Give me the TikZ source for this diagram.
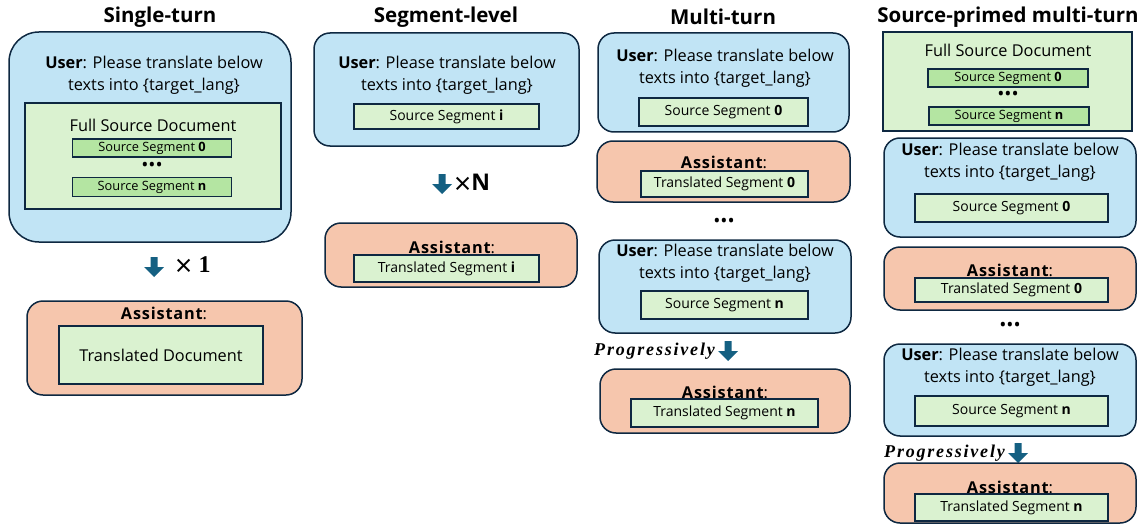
\documentclass[tikz,border=0pt]{standalone}
\usepackage{amsmath,amssymb}
\usepackage{fontspec}
\setmainfont{Open Sans}
\newfontfamily\asstfont[LetterSpace=5]{Open Sans}
\newfontfamily\progfont[LetterSpace=10]{Liberation Serif}
\usepackage{xcolor}
\usetikzlibrary{positioning}

\definecolor{cedge}{HTML}{0E2841}
\definecolor{cuser}{HTML}{C1E4F5}
\definecolor{casst}{HTML}{F6C6AD}
\definecolor{cdoc}{HTML}{DAF2D0}
\definecolor{cseg}{HTML}{B4E5A2}
\definecolor{carr}{HTML}{156082}

\newcommand\bodyfont{\fontsize{16.3}{22}\selectfont}
\newcommand\segfont{\fontsize{14}{16}\selectfont}
\newcommand\smallseg{\fontsize{12.8}{15}\selectfont}
\newcommand\headfont{\fontsize{20.5}{24}\selectfont\bfseries}
\newcommand\prompttext{\textbf{User}: Please translate below\\texts into \{target\_lang\}}
\newcommand\asstlabel{{\asstfont\bfseries Assistant}:}
\newcommand\bigtimes{\raisebox{-4pt}{\fontsize{30}{30}\selectfont ×}}

\tikzset{dnarr/.pic={\fill[carr] (-3.5,-10) -- (3.5,-10) -- (3.5,0) -- (10,0) -- (0,10) -- (-10,0) -- (-3.5,0) -- cycle;}}

\begin{document}
\begin{tikzpicture}[x=1pt, y=-1pt, inner sep=0pt, font=\bodyfont,
    head/.style={font=\headfont},
    box/.style={draw=cedge, line width=1.5pt, rounded corners=16pt},
    userbox/.style={box, fill=cuser},
    asstbox/.style={box, fill=casst},
    docbox/.style={draw=cedge, line width=1.5pt, fill=cdoc},
    segbox/.style={docbox, font=\segfont},
    darkseg/.style={draw=cedge, line width=1.5pt, fill=cseg, font=\smallseg},
    prompt/.style={align=center},
    dots/.style={font=\fontsize{19}{19}\selectfont},
    prog/.style={font=\fontsize{18}{18}\selectfont\progfont\bfseries\itshape}]

    \useasboundingbox (0,0) rectangle (1145,524);

    % Single-turn
    \node[head] (h1) at (160,17) {Single-turn};
    \node[userbox, rounded corners=30pt, minimum width=282pt, minimum height=210pt] (u1) at (150,137) {};
    \node[prompt] (p1) at (154,75) {\prompttext};
    \node[docbox, minimum width=256pt, minimum height=106pt] (d1) at (153,156) {};
    \node (f1) at (153,125) {Full Source Document};
    \node[darkseg, minimum width=159pt, minimum height=18pt] (s1a) at (152,148) {Source Segment \textbf{0}};
    \node[dots] (k1) at (152,167) {\textbullet\textbullet\textbullet};
    \node[darkseg, minimum width=159pt, minimum height=19pt] (s1b) at (152,187) {Source Segment \textbf{n}};
    \coordinate (arr1) at (154,267);
    \pic at (arr1) {dnarr};
    \node[right=21pt of arr1, font=\fontsize{24}{24}\selectfont] (m1) {\bigtimes\ {\progfont\bfseries 1}};
    \node[asstbox, minimum width=275pt, minimum height=94pt] (a1) at (164.5,348) {};
    \node (l1) at (164,313) {\asstlabel};
    \node[docbox, minimum width=204pt, minimum height=58pt] (t1) at (161,355) {Translated Document};

    % Segment-level
    \node[head] (h2) at (446,17) {Segment-level};
    \node[userbox, minimum width=265pt, minimum height=113pt] (u2) at (446.5,89.5) {};
    \node[prompt] (p2) at (447,75) {\prompttext};
    \node[segbox, minimum width=185pt, minimum height=25pt] (s2) at (446.5,116.5) {Source Segment \textbf{i}};
    \coordinate (arr2) at (442,184);
    \pic at (arr2) {dnarr};
    \node[right=12pt of arr2, font=\fontsize{23}{23}\selectfont] (m2) {\bigtimes\textbf{N}};
    \node[asstbox, minimum width=252pt, minimum height=64pt] (a2) at (451,255) {};
    \node (l2) at (452,247) {\asstlabel};
    \node[segbox, minimum width=185pt, minimum height=27pt] (t2) at (446.5,268.5) {Translated Segment \textbf{i}};

    % Multi-turn
    \node[head] (h3) at (723,17) {Multi-turn};
    \node[userbox, minimum width=251pt, minimum height=99pt] (u3a) at (723.5,82.5) {};
    \node[prompt] (p3a) at (725,68) {\prompttext};
    \node[segbox, minimum width=169pt, minimum height=28pt] (s3a) at (723.5,112) {Source Segment \textbf{0}};
    \node[asstbox, minimum width=253pt, minimum height=61pt] (a3a) at (723.5,171.5) {};
    \node (l3a) at (724,162) {\asstlabel};
    \node[segbox, minimum width=167pt, minimum height=26pt] (t3a) at (724.5,184) {Translated Segment \textbf{0}};
    \node[dots] (k3) at (724,223) {\textbullet\textbullet\textbullet};
    \node[userbox, minimum width=252pt, minimum height=93pt] (u3b) at (725,286.5) {};
    \node[prompt] (p3b) at (725,263.5) {\prompttext};
    \node[segbox, minimum width=167pt, minimum height=28pt] (s3b) at (724.5,305) {Source Segment \textbf{n}};
    \coordinate (arr3) at (728,351);
    \pic at (arr3) {dnarr};
    \node[prog, left=13pt of arr3] (g3) {Progressively};
    \node[asstbox, minimum width=250pt, minimum height=64pt] (a3b) at (725,401) {};
    \node (l3b) at (725,392) {\asstlabel};
    \node[segbox, minimum width=187pt, minimum height=28pt] (t3b) at (724.5,413) {Translated Segment \textbf{n}};

    % Source-primed multi-turn
    \node[head] (h4) at (1008,17) {Source-primed multi-turn};
    \node[docbox, minimum width=249pt, minimum height=99pt] (d4) at (1007.5,81.5) {};
    \node (f4) at (1008,50) {Full Source Document};
    \node[darkseg, minimum width=160pt, minimum height=18pt] (s4a) at (1008,78) {Source Segment \textbf{0}};
    \node[dots] (k4a) at (1008,96) {\textbullet\textbullet\textbullet};
    \node[darkseg, minimum width=160pt, minimum height=18pt] (s4b) at (1009,116) {Source Segment \textbf{n}};
    \node[userbox, minimum width=252pt, minimum height=99pt] (u4a) at (1010,187.5) {};
    \node[prompt] (p4a) at (1010,162.5) {\prompttext};
    \node[segbox, minimum width=193pt, minimum height=28pt] (s4c) at (1011.5,208) {Source Segment \textbf{0}};
    \node[asstbox, minimum width=252pt, minimum height=63pt] (a4a) at (1010,278.5) {};
    \node (l4a) at (1010,270) {\asstlabel};
    \node[segbox, minimum width=193pt, minimum height=24pt] (t4a) at (1011.5,290) {Translated Segment \textbf{0}};
    \node[dots] (k4b) at (1010,327) {\textbullet\textbullet\textbullet};
    \node[userbox, minimum width=252pt, minimum height=92pt] (u4b) at (1010,390) {};
    \node[prompt] (p4b) at (1010,367) {\prompttext};
    \node[segbox, minimum width=193pt, minimum height=30pt] (s4d) at (1011.5,411) {Source Segment \textbf{n}};
    \coordinate (arr4) at (1018,453);
    \pic at (arr4) {dnarr};
    \node[prog, left=13pt of arr4] (g4) {Progressively};
    \node[asstbox, minimum width=252pt, minimum height=60pt] (a4b) at (1010,493) {};
    \node (l4b) at (1010,487) {\asstlabel};
    \node[segbox, minimum width=193pt, minimum height=27pt] (t4b) at (1011.5,507.5) {Translated Segment \textbf{n}};

\end{tikzpicture}
\end{document}
